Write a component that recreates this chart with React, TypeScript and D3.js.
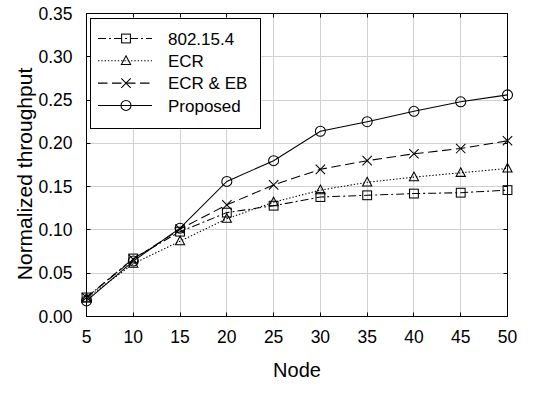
import React from "react";
import * as d3 from "d3";

const nodes = [5, 10, 15, 20, 25, 30, 35, 40, 45, 50];
const s802 = [0.022, 0.067, 0.098, 0.12, 0.128, 0.138, 0.140, 0.142, 0.143, 0.146];
const sECR = [0.021, 0.061, 0.087, 0.113, 0.132, 0.146, 0.155, 0.161, 0.166, 0.171];
const sECREB = [0.022, 0.066, 0.101, 0.129, 0.152, 0.170, 0.180, 0.188, 0.194, 0.203];
const sProposed = [0.018, 0.064, 0.102, 0.156, 0.180, 0.214, 0.225, 0.237, 0.248, 0.256];
const yTicks = [0, 0.05, 0.1, 0.15, 0.2, 0.25, 0.3, 0.35];
const seriesNames = ["802.15.4", "ECR", "ECR & EB", "Proposed"];

const W = 547, H = 405;
const L = 86.5, R = 507.5, T = 13.5, B = 316.5;
const FONT = "'Liberation Sans', Arial, sans-serif";

type Kind = "square" | "triangle" | "x" | "circle";
const series: { name: string; values: number[]; dash: string; kind: Kind }[] = [
  { name: seriesNames[0], values: s802, dash: "8,3,2,3", kind: "square" },
  { name: seriesNames[1], values: sECR, dash: "1.4,1.9", kind: "triangle" },
  { name: seriesNames[2], values: sECREB, dash: "9.5,4.5", kind: "x" },
  { name: seriesNames[3], values: sProposed, dash: "", kind: "circle" },
];

function Marker({ kind, x, y }: { kind: Kind; x: number; y: number }) {
  const st = { fill: "none", stroke: "#000", strokeWidth: 1.05 };
  if (kind === "square") return <rect x={x - 4.4} y={y - 4.4} width={8.8} height={8.8} {...st} />;
  if (kind === "triangle")
    return <path d={`M${x},${y - 5} L${x + 4.6},${y + 3.6} L${x - 4.6},${y + 3.6} Z`} {...st} />;
  if (kind === "x")
    return <path d={`M${x - 4.7},${y - 4.7} L${x + 4.7},${y + 4.7} M${x - 4.7},${y + 4.7} L${x + 4.7},${y - 4.7}`} {...st} />;
  return <circle cx={x} cy={y} r={5} {...st} />;
}

export default function App() {
  const x = d3.scaleLinear().domain([5, 50]).range([L, R]);
  const y = d3.scaleLinear().domain([0, 0.35]).range([B, T]);
  const line = d3
    .line<number>()
    .x((_, i) => x(nodes[i]))
    .y((d) => y(d));
  const px = (v: number) => Math.round(v - 0.5) + 0.5;

  const legX = 90.5, legY = 18.5, legW = 170, legH = 110;
  const rowY = (i: number) => 38.5 + i * 22.3;

  return (
    <svg
      width={W}
      height={H}
      style={{ position: "absolute", left: 0, top: 0, background: "#fff" }}
      fontFamily={FONT}
    >
      <rect x={0} y={0} width={W} height={H} fill="#fff" />
      {nodes.map((n) => (
        <line key={"gx" + n} x1={px(x(n))} x2={px(x(n))} y1={T} y2={B} stroke="#d0d0d0" strokeWidth={1} />
      ))}
      {yTicks.map((t) => (
        <line key={"gy" + t} x1={L} x2={R} y1={px(y(t))} y2={px(y(t))} stroke="#d0d0d0" strokeWidth={1} />
      ))}
      {nodes.map((n) => (
        <g key={"tx" + n} stroke="#000" strokeWidth={1}>
          <line x1={px(x(n))} x2={px(x(n))} y1={B} y2={B - 4} />
          <line x1={px(x(n))} x2={px(x(n))} y1={T} y2={T + 4} />
        </g>
      ))}
      {yTicks.map((t) => (
        <g key={"ty" + t} stroke="#000" strokeWidth={1}>
          <line x1={L} x2={L + 4} y1={px(y(t))} y2={px(y(t))} />
          <line x1={R} x2={R - 4} y1={px(y(t))} y2={px(y(t))} />
        </g>
      ))}
      {series.map((s) => (
        <g key={s.name}>
          <path d={line(s.values) || ""} fill="none" stroke="#000" strokeWidth={1.05} strokeDasharray={s.dash} />
          {s.values.map((v, i) => (
            <Marker key={i} kind={s.kind} x={x(nodes[i])} y={y(v)} />
          ))}
        </g>
      ))}
      <rect x={L} y={T} width={R - L} height={B - T} fill="none" stroke="#000" strokeWidth={1} />
      {nodes.map((n) => (
        <text key={"lx" + n} x={x(n)} y={343} textAnchor="middle" fontSize={17.5} fill="#000">
          {n}
        </text>
      ))}
      {yTicks.map((t) => (
        <text key={"ly" + t} x={72.5} y={y(t) + 6} textAnchor="end" fontSize={17.5} fill="#000">
          {t.toFixed(2)}
        </text>
      ))}
      <text x={(L + R) / 2} y={377} textAnchor="middle" fontSize={20} fill="#000">
        Node
      </text>
      <text
        transform={`translate(32,174) rotate(-90)`}
        textAnchor="middle"
        fontSize={21}
        fill="#000"
      >
        Normalized throughput
      </text>
      <rect x={legX} y={legY} width={legW} height={legH} fill="#fff" stroke="#000" strokeWidth={1} />
      {series.map((s, i) => (
        <g key={"leg" + s.name}>
          <line x1={98} x2={152} y1={rowY(i)} y2={rowY(i)} stroke="#000" strokeWidth={1.05} strokeDasharray={s.dash} />
          <Marker kind={s.kind} x={126} y={rowY(i)} />
          <text x={168} y={rowY(i) + 6.2} fontSize={17} fill="#000">
            {s.name}
          </text>
        </g>
      ))}
    </svg>
  );
}
